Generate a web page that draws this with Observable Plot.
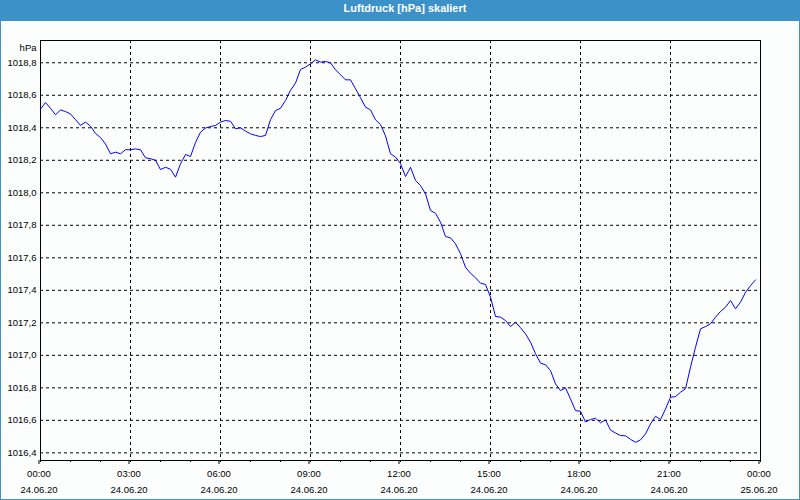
<!DOCTYPE html>
<html><head><meta charset="utf-8">
<script src="https://cdn.jsdelivr.net/npm/d3@7"></script>
<script src="https://cdn.jsdelivr.net/npm/@observablehq/plot@0.6"></script>
<style>
html,body{margin:0;padding:0;background:#fff;}
#wrap{position:relative;width:800px;height:500px;background:#fcfefe;overflow:hidden;}
#title{position:absolute;left:0;top:0;width:800px;height:21px;background:#3c91c8;color:#fff;font:bold 11px "Liberation Sans",Arial,sans-serif;text-align:center;line-height:17px;box-sizing:border-box;padding-left:10px;z-index:2;}
#chart{position:absolute;left:0;top:0;}
#border{position:absolute;left:0;top:0;width:800px;height:500px;box-sizing:border-box;border:1px solid #3c91c8;border-top:none;pointer-events:none;z-index:3;}
</style>
</head><body>
<div id="wrap"><div id="title">Luftdruck [hPa] skaliert</div><div id="chart"></div><div id="border"></div></div>
<script>
// measurement start, sampling step (10 min)
const startTime = "2020-06-24T00:00:00Z";
const endTime = "2020-06-25T00:00:00Z";
const stepMinutes = 10;
// air pressure [hPa], one value every 10 minutes from 00:00
const pressure = [
1018.515,1018.555,1018.52,1018.48,1018.51,1018.50,1018.485,1018.45,1018.415,1018.435,
1018.41,1018.365,1018.34,1018.30,1018.24,1018.25,1018.24,1018.265,1018.265,1018.27,
1018.265,1018.215,1018.21,1018.20,1018.143,1018.157,1018.145,1018.096,1018.178,1018.236,
1018.223,1018.31,1018.373,1018.398,1018.408,1018.414,1018.435,1018.445,1018.44,1018.394,
1018.40,1018.379,1018.363,1018.353,1018.346,1018.353,1018.45,1018.506,1018.52,1018.568,
1018.63,1018.675,1018.759,1018.773,1018.794,1018.818,1018.804,1018.808,1018.80,1018.757,
1018.726,1018.695,1018.695,1018.64,1018.585,1018.527,1018.51,1018.449,1018.42,1018.35,
1018.24,1018.22,1018.18,1018.10,1018.157,1018.076,1018.045,1017.994,1017.891,1017.874,
1017.819,1017.731,1017.723,1017.686,1017.625,1017.542,1017.505,1017.477,1017.444,1017.436,
1017.358,1017.239,1017.235,1017.214,1017.177,1017.204,1017.17,1017.132,1017.081,1017.01,
1016.952,1016.942,1016.906,1016.825,1016.783,1016.80,1016.732,1016.66,1016.656,1016.59,
1016.605,1016.613,1016.585,1016.603,1016.54,1016.522,1016.507,1016.505,1016.483,1016.465,
1016.48,1016.517,1016.578,1016.625,1016.605,1016.67,1016.742,1016.746,1016.773,1016.794,
1016.927,1017.05,1017.163,1017.177,1017.194,1017.235,1017.27,1017.296,1017.337,1017.286,
1017.327,1017.388,1017.429,1017.464
];
// y tick values
const yTicks = [1016.4,1016.6,1016.8,1017.0,1017.2,1017.4,1017.6,1017.8,1018.0,1018.2,1018.4,1018.6,1018.8];
const yDomain = [1016.353, 1018.937];
// x tick labels (every 3 hours)
const xTickTimes = ["2020-06-24T00:00:00Z","2020-06-24T03:00:00Z","2020-06-24T06:00:00Z","2020-06-24T09:00:00Z","2020-06-24T12:00:00Z","2020-06-24T15:00:00Z","2020-06-24T18:00:00Z","2020-06-24T21:00:00Z","2020-06-25T00:00:00Z"];

const start = new Date(startTime), end = new Date(endTime);
const data = pressure.map((v, i) => ({time: new Date(+start + i * stepMinutes * 60000), value: v}));
const xTicks = xTickTimes.map(s => new Date(s));
const xGrid = xTicks.slice(1, -1);
const hourTicks = d3.utcHour.range(start, new Date(+end + 1));
const fmtTime = d3.utcFormat("%H:%M"), fmtDate = d3.utcFormat("%d.%m.%y");

const chart = Plot.plot({
  width: 800, height: 500,
  marginLeft: 40, marginRight: 40, marginTop: 40, marginBottom: 40,
  style: {background: "transparent", fontFamily: '"Liberation Sans", Arial, sans-serif', fontSize: "9.5px", color: "#000"},
  x: {type: "utc", domain: [start, end]},
  y: {domain: yDomain},
  marks: [
    Plot.gridY(yTicks, {stroke: "#000", strokeOpacity: 1, strokeDasharray: "3,3"}),
    Plot.gridX(xGrid, {stroke: "#000", strokeOpacity: 1, strokeDasharray: "3,3"}),
    Plot.frame({stroke: "#000"}),
    Plot.axisY(yTicks, {tickSize: 0, tickPadding: 4, tickFormat: d => d.toFixed(1).replace(".", ","), label: null}),
    Plot.axisX(hourTicks, {tickSize: 2, tickFormat: () => "", label: null}),
    Plot.axisX(xTicks, {tickSize: 4, tickPadding: 1, tickFormat: d => fmtTime(d) + "\n" + fmtDate(d), label: null, lineHeight: 1.7, dx: -1.5}),
    Plot.line(data, {x: "time", y: "value", stroke: "#0000ff", strokeWidth: 1}),
    Plot.text(["hPa"], {frameAnchor: "top-left", dx: -4, dy: 4, textAnchor: "end"})
  ]
});
document.getElementById("chart").appendChild(chart);
</script>
</body></html>
